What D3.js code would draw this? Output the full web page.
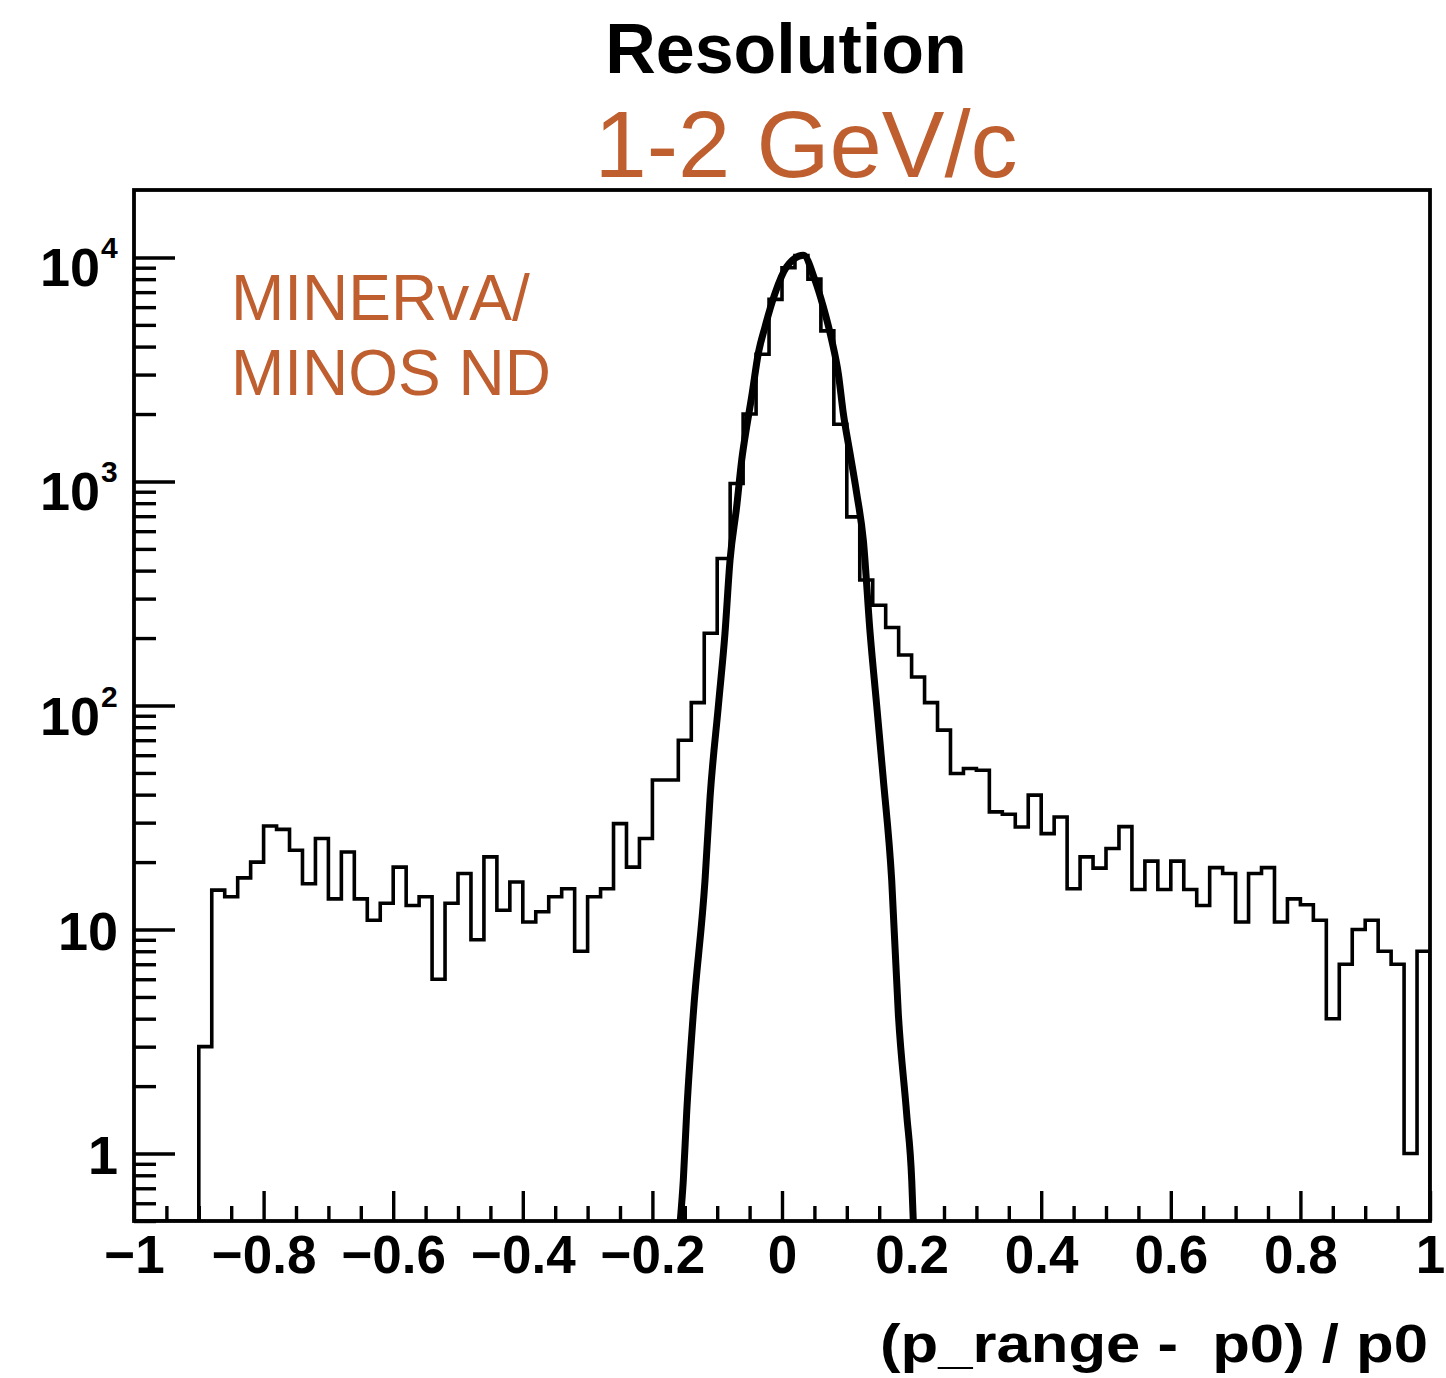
<!DOCTYPE html>
<html>
<head>
<meta charset="utf-8">
<script src="https://cdn.jsdelivr.net/npm/d3@7"></script>
<style>
  html, body { margin: 0; padding: 0; background: #fff; }
  svg { display: block; }
  text { font-family: "Liberation Sans", Arial, Helvetica, sans-serif; }
</style>
</head>
<body>
<svg id="chart" width="1446" height="1378"></svg>
<script>
// ---------------- data ----------------
const binLow = -1;
const binWidth = 0.02;
// counts per bin, from -1 to 1 (100 bins of 0.02)
const counts = [
  0, 0, 0, 0, 0, 3, 15, 14, 17, 20,
  29, 28, 22.6, 16, 25.5, 13.7, 22.2, 13.7, 11, 13.1,
  19, 12.8, 14, 6, 13.1, 17.8, 9, 21.1, 12.2, 16.3,
  10.8, 12, 14, 15.2, 8, 14, 15.2, 29.7, 19, 25.5,
  46.5, 46.5, 70, 103, 210, 453, 979, 2000, 3700, 6500,
  9000, 10200, 8000, 4700, 1800, 695, 363, 280, 223, 168,
  134, 103, 77.6, 49.7, 52.3, 51.4, 33.5, 32.7, 28.7, 39.8,
  26.8, 31.8, 15.2, 21.1, 18.8, 23, 28.8, 15.1, 20.2, 15.1,
  20.2, 15.1, 12.8, 18.9, 17.8, 10.8, 17.8, 18.9, 10.8, 13.7,
  12.9, 11, 4, 7, 10, 11, 8, 7, 1, 8
];
// fitted curve, points
const fitX = [-0.157, -0.1523, -0.1472, -0.1369, -0.1188, -0.111, -0.098, -0.088, -0.0802, -0.070,
              -0.0622, -0.0545, -0.0468, -0.0366, -0.0262, -0.0108, 0.0072, 0.0329, 0.0509, 0.0638,
              0.0767, 0.0869, 0.0946, 0.105, 0.1153, 0.1255, 0.136, 0.146, 0.156, 0.1693,
              0.1795, 0.1924, 0.2002, 0.2026];
const fitY = [0.5, 0.76, 1.5, 4.2, 16.6, 39, 101, 210, 445, 770,
              1245, 1755, 2390, 3725, 4900, 6910, 9080, 10240, 7920, 6010,
              4280, 3035, 2015, 1334, 884, 547, 210, 101, 48, 16.6,
              4.2, 1.5, 0.76, 0.5];
const xTicks = [-1, -0.8, -0.6, -0.4, -0.2, 0, 0.2, 0.4, 0.6, 0.8, 1];
const yTicks = [1, 10, 100, 1000, 10000];
const yTickLabels = [["1", ""], ["10", ""], ["10", "2"], ["10", "3"], ["10", "4"]];
const xDomain = [-1, 1];
const yDomain = [0.5, 20000];
const title = "Resolution";
const subtitle = "1-2 GeV/c";
const noteLines = ["MINERvA/", "MINOS ND"];
const xTitle = "(p_range -  p0) / p0";

// ---------------- layout ----------------
const L = 134, R = 1430, T = 190, B = 1221;
const orange = "#BF5F2F";
const svg = d3.select("#chart");

const x = d3.scaleLinear().domain(xDomain).range([L, R]);
const y = d3.scaleLog().domain(yDomain).range([B, T]);

svg.append("defs").append("clipPath").attr("id", "plotclip")
  .append("rect").attr("x", L).attr("y", T).attr("width", R - L).attr("height", B - T);

// ---------------- histogram ----------------
const pts = [[x(binLow), y(yDomain[0])]];
counts.forEach((c, i) => {
  const lo = binLow + i * binWidth, hi = lo + binWidth;
  const v = Math.max(c, yDomain[0]);
  pts.push([x(lo), y(v)]);
  pts.push([x(hi), y(v)]);
});
pts.push([x(binLow + counts.length * binWidth), y(yDomain[0])]);

svg.append("path")
  .attr("clip-path", "url(#plotclip)")
  .attr("d", d3.line()(pts))
  .attr("fill", "none")
  .attr("stroke", "#000")
  .attr("stroke-width", 3.6)
  .attr("stroke-linejoin", "miter");

// ---------------- fit curve ----------------
const fitPts = fitX.map((fx, i) => [x(fx), y(fitY[i])]);
svg.append("path")
  .attr("clip-path", "url(#plotclip)")
  .attr("d", d3.line().curve(d3.curveMonotoneX)(fitPts))
  .attr("fill", "none")
  .attr("stroke", "#000")
  .attr("stroke-width", 7);

// ---------------- axes ----------------
const xMinor = [];
for (let k = -20; k <= 20; k++) { if (k % 4 !== 0) xMinor.push(k * 0.05); }

const gxMinor = svg.append("g").attr("transform", `translate(0,${B})`)
  .call(d3.axisBottom(x).tickValues(xMinor).tickSize(-15).tickFormat(""));
const gx = svg.append("g").attr("transform", `translate(0,${B})`)
  .call(d3.axisBottom(x).tickValues(xTicks).tickSize(-30).tickPadding(14)
    .tickFormat(v => (v < 0 ? "\u2212" : "") + Math.abs(v)));
[gxMinor, gx].forEach(g => {
  g.select(".domain").remove();
  g.selectAll("line").attr("stroke", "#000").attr("stroke-width", 3.4);
});
gx.selectAll("text")
  .attr("fill", "#000")
  .style("font-family", "'Liberation Sans', Arial, sans-serif")
  .style("font-weight", "bold")
  .style("font-size", "53px");

const yMinor = [];
[0.1, 1, 10, 100, 1000, 10000].forEach(d => {
  for (let m = 2; m <= 9; m++) {
    const v = d * m;
    if (v >= yDomain[0] && v < yDomain[1] && !yTicks.includes(v)) yMinor.push(v);
  }
});
const gyMinor = svg.append("g").attr("transform", `translate(${L},0)`)
  .call(d3.axisLeft(y).tickValues(yMinor).tickSize(-22).tickFormat(""));
const gy = svg.append("g").attr("transform", `translate(${L},0)`)
  .call(d3.axisLeft(y).tickValues(yTicks).tickSize(-41).tickFormat(""));
[gyMinor, gy].forEach(g => {
  g.select(".domain").remove();
  g.selectAll("line").attr("stroke", "#000").attr("stroke-width", 3.4);
});

// y labels
const yl = svg.append("g");
yTicks.forEach((v, i) => {
  const [base, exp] = yTickLabels[i];
  const ty = y(v);
  if (exp) {
    yl.append("text")
      .attr("x", 100).attr("y", ty + 29)
      .attr("text-anchor", "end")
      .attr("font-weight", "bold").attr("font-size", 54)
      .text(base);
    yl.append("text")
      .attr("x", 101).attr("y", ty + 1)
      .attr("text-anchor", "start")
      .attr("font-weight", "bold").attr("font-size", 30)
      .text(exp);
  } else {
    yl.append("text")
      .attr("x", 118).attr("y", ty + 20)
      .attr("text-anchor", "end")
      .attr("font-weight", "bold").attr("font-size", 54)
      .text(base);
  }
});

// frame
svg.append("rect")
  .attr("x", L).attr("y", T).attr("width", R - L).attr("height", B - T)
  .attr("fill", "none").attr("stroke", "#000").attr("stroke-width", 3.8);

// ---------------- texts ----------------
svg.append("text")
  .attr("x", 786).attr("y", 73)
  .attr("text-anchor", "middle")
  .attr("font-weight", "bold").attr("font-size", 70)
  .attr("fill", "#000")
  .text(title);

svg.append("text")
  .attr("x", 806).attr("y", 177)
  .attr("text-anchor", "middle")
  .attr("font-size", 94)
  .attr("fill", orange)
  .text(subtitle);

noteLines.forEach((s, i) => {
  svg.append("text")
    .attr("x", 231).attr("y", 320 + i * 75)
    .attr("font-size", 64)
    .attr("fill", orange)
    .text(s);
});

svg.append("text")
  .attr("x", 880).attr("y", 1362)
  .attr("text-anchor", "start")
  .attr("font-weight", "bold").attr("font-size", 54)
  .attr("textLength", 548)
  .attr("lengthAdjust", "spacingAndGlyphs")
  .style("white-space", "pre")
  .attr("xml:space", "preserve")
  .attr("fill", "#000")
  .text(xTitle);
</script>
</body>
</html>
